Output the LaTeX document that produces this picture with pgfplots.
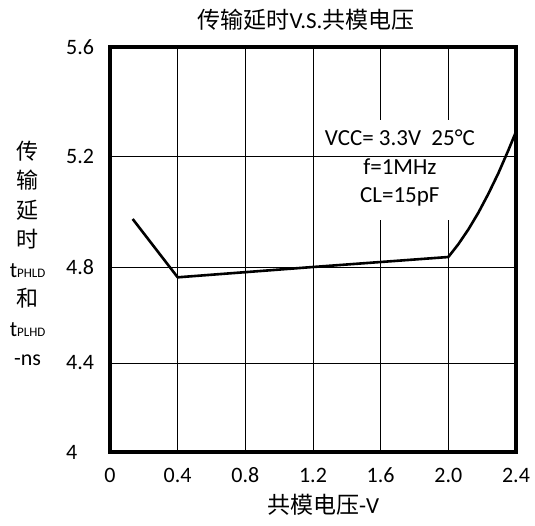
\documentclass[border=0pt]{standalone}
\usepackage{fontspec}
\setmainfont{Carlito}
\newfontfamily\cjk{Noto Sans CJK SC}
\usepackage{pgfplots}
\pgfplotsset{compat=1.18}
\begin{document}
\begin{tikzpicture}
\useasboundingbox (-110pt,-73pt) rectangle (425pt,452pt);
\begin{axis}[
  at={(0,0)}, anchor=south west,
  scale only axis, width=406pt, height=405pt,
  xmin=0, xmax=2.4, ymin=4, ymax=5.6,
  y coord trafo/.code={\pgfmathparse{#1<4.4 ? (#1-4)*222.5 : (#1<4.8 ? 89+(#1-4.4)*240 : (#1<5.2 ? 185+(#1-4.8)*277.5 : 296+(#1-5.2)*272.5))}},
  y coord inv trafo/.code={\pgfmathparse{#1<89 ? 4+#1/222.5 : (#1<185 ? 4.4+(#1-89)/240 : (#1<296 ? 4.8+(#1-185)/277.5 : 5.2+(#1-296)/272.5))}},
  xtick={0,0.4,0.8,1.2,1.6,2.0,2.4},
  xticklabels={0,0.4,0.8,1.2,1.6,2.0,2.4},
  ytick={4,4.4,4.8,5.2,5.6},
  yticklabels={4,4.4,4.8,5.2,5.6},
  grid=major,
  major grid style={black, line width=0.9pt},
  major tick length=0pt,
  axis line style={line width=4pt, line join=miter},
  tick label style={font=\fontsize{22}{26}\selectfont, inner sep=0pt},
  xticklabel style={anchor=center, yshift=-23pt},
  yticklabel style={anchor=west, xshift=-44pt},
  clip=false,
]
\fill[white] (rel axis cs:0.53,0.573) rectangle (rel axis cs:0.961,0.82);
\draw[black, line width=0.9pt] (axis cs:0,5.2) -- (axis cs:2.4,5.2);
\addplot[black, line width=2.6pt, line join=round] coordinates {
  (0.134,4.973) (0.4,4.757) (1.2,4.80) (2.0,4.836)
};
\addplot[black, line width=2.6pt, line join=round] coordinates {
  (2.0,4.836) (2.059,4.882) (2.118,4.935) (2.177,4.995) (2.236,5.063)
  (2.295,5.137) (2.354,5.220) (2.4,5.289)
};
\node[align=center, font=\fontsize{23}{28.5}\selectfont] at (rel axis cs:0.714,0.701)
  {VCC= 3.3V\ \ 25°C\\f=1MHz\\CL=15pF};
\node[font=\fontsize{23}{28}\selectfont] at (rel axis cs:0.483,1.067)
  {{\cjk 传输延时}V.S.{\cjk 共模电压}};
\node[font=\fontsize{23}{28}\selectfont] at (rel axis cs:0.525,-0.131)
  {{\cjk 共模电压}-V};
\node[align=center, font=\fontsize{22}{29.5}\selectfont] at (rel axis cs:-0.203,0.491)
  {{\cjk 传}\\{\cjk 输}\\{\cjk 延}\\{\cjk 时}\\t{\fontsize{13}{14}\selectfont PHLD}\\{\cjk 和}\\t{\fontsize{13}{14}\selectfont PLHD}\\-ns};
\end{axis}
\end{tikzpicture}
\end{document}
